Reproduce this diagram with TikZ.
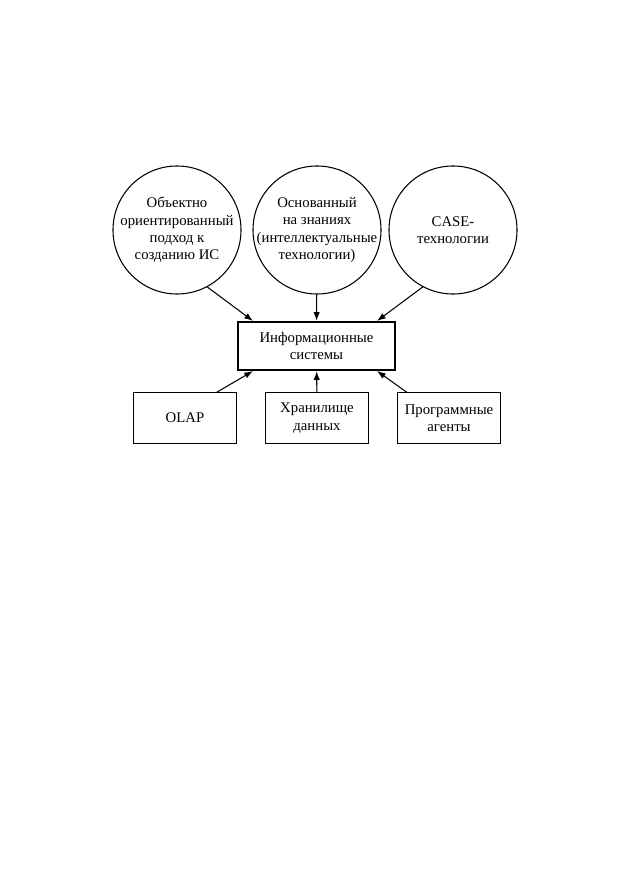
\documentclass[tikz,border=0pt]{standalone}
\usepackage{fontspec}
\setmainfont{Liberation Serif}
\usetikzlibrary{arrows.meta}

\begin{document}
\begin{tikzpicture}[x=0.3333mm,y=-0.3333mm,font=\fontsize{14}{16.5}\selectfont,
    topic/.style={shape=circle,draw=black,line width=1pt,minimum size=42.67mm},
    tool/.style={shape=rectangle,draw=black,line width=1pt,minimum width=34.2mm,minimum height=16.7mm,align=center},
    feed/.style={-{Latex[length=2.9mm,width=2.1mm]},line width=1pt}]
    \useasboundingbox (0,0) rectangle (630,893);
    \node[topic,label={[align=center]center:Объектно\\ориентированный\\подход к\\созданию ИС}] (OOP) at (177,230) {};
    \node[topic,label={[align=center]center:Основанный\\на знаниях\\(интеллектуальные\\технологии)}] (KB) at (317,230) {};
    \node[topic,label={[align=center]center:CASE-\\технологии}] (CASE) at (453,230) {};
    \node[shape=rectangle,draw=black,line width=2.2pt,minimum width=52.3mm,minimum height=16mm,align=center] (IS) at (316.5,346) {Информационные\\системы};
    \node[tool] (OLAP) at (185,418) {OLAP};
    \node[tool] (DW) at (317,418) {Хранилище\\данных};
    \node[tool] (AG) at (449,418) {Программные\\агенты};
    \coordinate (T1) at (253,321);
    \coordinate (T3) at (377,321);
    \coordinate (B1) at (253,371);
    \coordinate (B3) at (377,371);
    \path [feed](OOP.298) edge node[left]{} (T1);
    \path [feed](KB) edge node[left]{} (IS);
    \path [feed](CASE.242) edge node[left]{} (T3);
    \path [feed]([xshift=10.5mm]OLAP.north) edge node[left]{} (B1);
    \path [feed](DW) edge node[left]{} (IS);
    \path [feed]([xshift=-14mm]AG.north) edge node[left]{} (B3);
\end{tikzpicture}
\end{document}
